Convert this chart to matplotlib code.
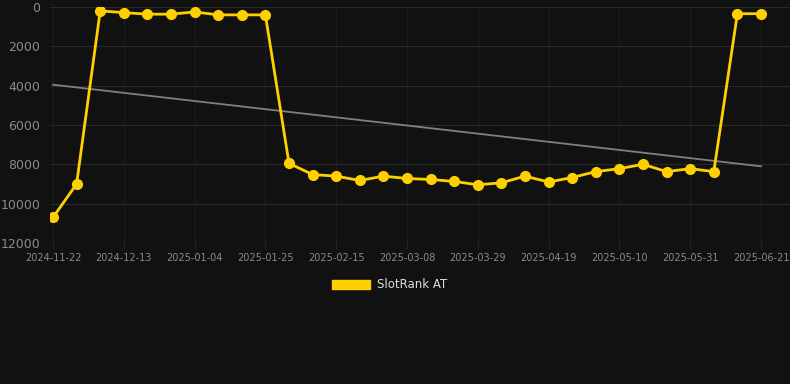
import numpy as np
from matplotlib import pyplot as plt
from matplotlib.patches import Patch

rank = [10700, 9000, 200, 285, 365, 365, 250, 400, 400, 400,
        7950, 8520, 8600, 8820, 8600, 8720, 8770, 8870, 9040, 8940,
        8600, 8900, 8670, 8370, 8220, 8000, 8370, 8220, 8370, 340, 340]
trend_ends = [3950, 8100]
tick_labels = ["2024-11-22", "2024-12-13", "2025-01-04", "2025-01-25", "2025-02-15",
               "2025-03-08", "2025-03-29", "2025-04-19", "2025-05-10", "2025-05-31",
               "2025-06-21"]

x = np.arange(len(rank))
tick_pos = x[::3]

bg = "#111111"
fig = plt.figure(figsize=(7.9, 3.84), dpi=100, facecolor=bg)
# plot area runs from px 50 to the right edge; points span px 53..761
ax = fig.add_axes([50 / 790, 1 - 243 / 384, 740 / 790, 236 / 384], facecolor=bg)
step = 708 / 30
ax.set_xlim(-3 / step, 30 + 29 / step)

ax.plot([x[0], x[-1]], trend_ends, color="#808080", lw=1.3, zorder=2)
ax.plot(x, rank, color="#ffd000", lw=2, marker="o", ms=7, zorder=3)

ax.set_ylim(12000, 0)
ax.set_yticks(range(0, 12001, 2000))
ax.set_xticks(tick_pos)
ax.set_xticklabels(tick_labels)

ax.grid(True, axis="y", color="#292929", lw=0.8)
ax.grid(True, axis="x", color="#1d1d1d", lw=0.8)
for s in ax.spines.values():
    s.set_visible(False)
ax.tick_params(axis="y", length=0, pad=7, labelsize=9, labelcolor="#8a8a8a")
ax.tick_params(axis="x", length=4, color="#262626", pad=3, labelsize=7, labelcolor="#8a8a8a")

leg = fig.legend(handles=[Patch(facecolor="#ffd000", edgecolor="#ffd000", label="SlotRank AT")],
                 loc="center", bbox_to_anchor=(390 / 790, 1 - 285 / 384), frameon=False,
                 fontsize=8.5, handlelength=3.2, handleheight=0.9, handletextpad=0.6)
for t in leg.get_texts():
    t.set_color("#dddddd")

fig.savefig("out.png", dpi=100, facecolor=bg)
